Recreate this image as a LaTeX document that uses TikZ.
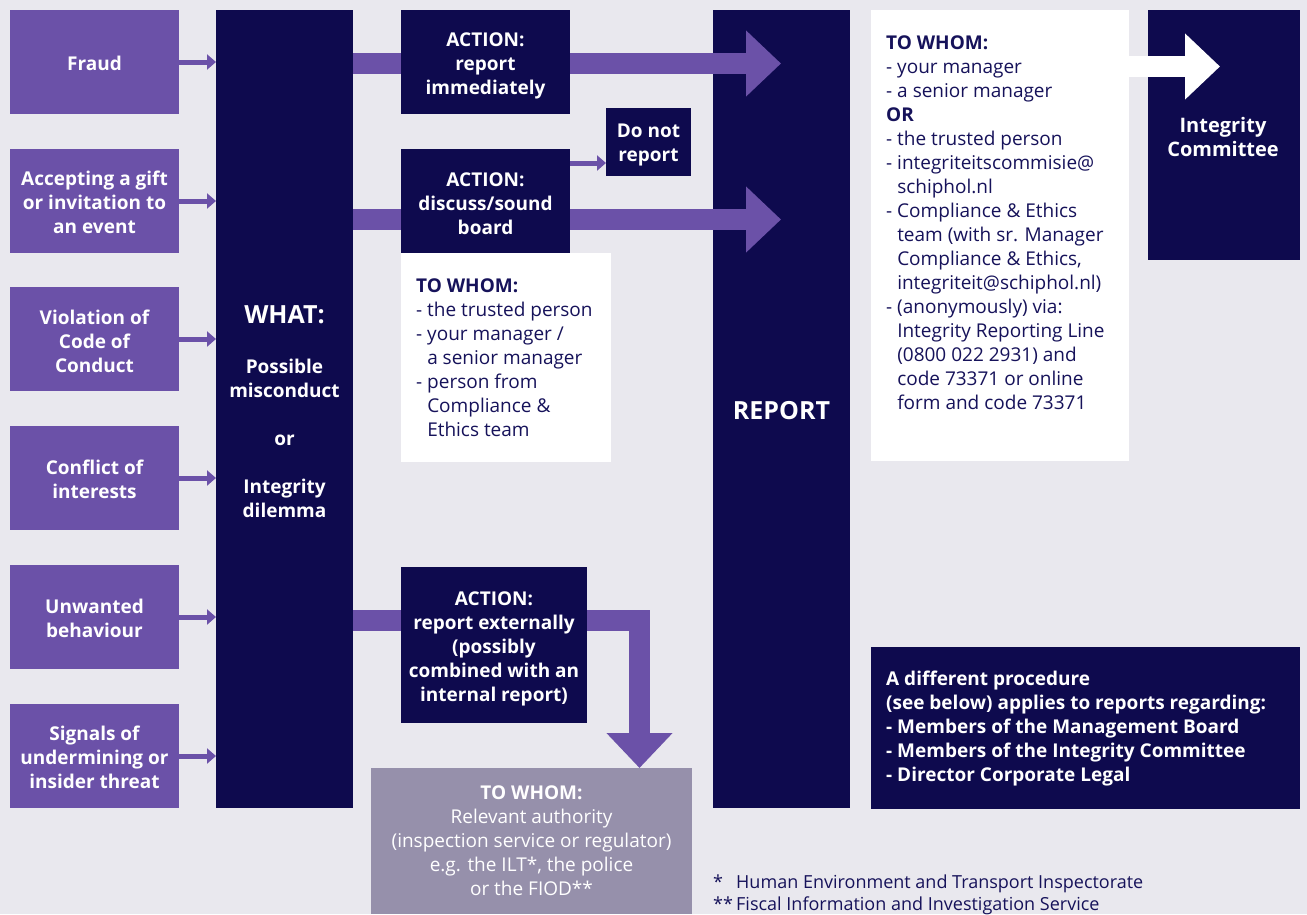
\documentclass[tikz,border=0pt]{standalone}
\usepackage{fontspec}
\setmainfont{Open Sans}
\usetikzlibrary{arrows.meta,calc}
\definecolor{bg}{HTML}{E9E8EE}
\definecolor{navy}{HTML}{0E0A4E}
\definecolor{purp}{HTML}{6B51A8}
\definecolor{grayb}{HTML}{9690AB}
\definecolor{txtnavy}{HTML}{16125A}
\begin{document}
\begin{tikzpicture}[x=1pt,y=-1pt,
  box/.style={rectangle, inner sep=0pt, outer sep=0pt, anchor=north west},
  btext/.style={inner sep=0pt, align=center, font=\fontsize{19}{24}\selectfont\bfseries, text=white},
  topic/.style={box, fill=purp, minimum width=169pt, minimum height=104pt},
  navybox/.style={box, fill=navy},
  whitebox/.style={box, fill=white},
  bodytext/.style={inner sep=0pt, anchor=north west, align=left,
    font=\fontsize{19}{24}\selectfont, text=txtnavy},
  band/.style={line width=21pt, line join=miter, draw=purp,
    -{Triangle[length=35pt,width=64pt]}},
  thin/.style={line width=5pt, draw=purp, -{Triangle[length=9pt,width=15pt]}},
]
\useasboundingbox (0,0) rectangle (1307,914);
\fill[bg] (0,0) rectangle (1307,914);

% topic boxes
\node[topic] (fraud) at (10,10) {};
\node[topic] (gift) at (10,149) {};
\node[topic] (code) at (10,287) {};
\node[topic] (conflict) at (10,426) {};
\node[topic] (unwanted) at (10,565) {};
\node[topic] (signals) at (10,704) {};
\node[btext, yshift=-1.5pt] (fraudt) at (fraud) {Fraud};
\node[btext, yshift=-1.5pt] (giftt) at (gift) {Accepting a gift\\or invitation to\\an event};
\node[btext, yshift=-2pt] (codet) at (code) {Violation of\\Code of\\Conduct};
\node[btext, yshift=-1.5pt] (conflictt) at (conflict) {Conflict of\\interests};
\node[btext, yshift=-1.5pt] (unwantedt) at (unwanted) {Unwanted\\behaviour};
\node[btext, yshift=-1.5pt] (signalst) at (signals) {Signals of\\undermining or\\insider threat};

% main columns
\node[navybox, minimum width=137pt, minimum height=798pt] (what) at (216,10) {};
\node[btext, yshift=-2.5pt] (whatt) at (what)
  {{\fontsize{25}{30}\selectfont WHAT:}\\[26pt]Possible\\misconduct\\[24pt]or\\[24pt]Integrity\\dilemma};
\node[navybox, minimum width=137pt, minimum height=798pt] (report) at (713,10) {};
\node[btext, yshift=-2pt, font=\fontsize{25}{30}\selectfont\bfseries] (reportt) at (report) {REPORT};

% small arrows
\foreach \t in {fraud,gift,code,conflict,unwanted,signals}
  \draw[thin] (\t.east) -- (\t.east -| what.west);

% big arrows
\coordinate (tip1) at (781,63.5);
\coordinate (tip2) at (781,219.5);
\coordinate (elbow) at (639.5,620);
\coordinate (tip3) at (639.5,768);
\draw[band] (what.east |- tip1) -- (tip1);
\draw[band] (what.east |- tip2) -- (tip2);
\draw[band] (what.east |- elbow) -| (tip3);

% action boxes
\node[navybox, minimum width=169pt, minimum height=104pt] (act1) at (401,10) {};
\node[btext, yshift=-4pt] (act1t) at (act1) {ACTION:\\report\\immediately};
\node[navybox, minimum width=169pt, minimum height=104pt] (act2) at (401,149) {};
\node[btext, yshift=-3pt] (act2t) at (act2) {ACTION:\\discuss/sound\\board};
\node[navybox, minimum width=85pt, minimum height=68pt] (donot) at (606,108) {};
\node[btext, yshift=-3pt] (donott) at (donot) {Do not\\report};
\coordinate (dn) at (588,163);
\draw[thin] (act2.east |- dn) -- (donot.west |- dn);

\node[whitebox, minimum width=210pt, minimum height=209pt] (whom1) at (401,253) {};
\node[bodytext] (whom1t) at (416,278.5)
  {\textbf{TO WHOM:}\\- the trusted person\\- your manager /\\\phantom{- }a senior manager\\- person from\\\phantom{- }Compliance \&\\\phantom{- }Ethics team};

\node[navybox, minimum width=186pt, minimum height=156pt] (act3) at (401,567) {};
\node[btext, yshift=-3.5pt] (act3t) at (act3)
  {ACTION:\\report externally\\(possibly\\combined with an\\internal report)};

\node[box, fill=grayb, minimum width=321pt, minimum height=146pt] (auth) at (371,768) {};
\node[btext, font=\fontsize{19}{24}\selectfont, yshift=0.5pt] (autht) at (auth)
  {\textbf{TO WHOM:}\\Relevant authority\\(inspection service or regulator)\\e.g. the ILT*, the police\\or the FIOD**};

% right side
\node[whitebox, minimum width=258pt, minimum height=451pt] (whom2) at (871,10) {};
\node[bodytext] (whom2t) at (886,36)
  {\textbf{TO WHOM:}\\- your manager\\- a senior manager\\\textbf{OR}\\- the trusted person\\- integriteitscommisie@\\\phantom{- }schiphol.nl\\- Compliance \& Ethics\\\phantom{- }team (with sr. Manager\\\phantom{- }Compliance \& Ethics,\\\phantom{- }integriteit@schiphol.nl)\\- (anonymously) via:\\\phantom{- }Integrity Reporting Line\\\phantom{- }(0800 022 2931) and\\\phantom{- }code 73371 or online\\\phantom{- }form and code 73371};

\node[navybox, minimum width=152pt, minimum height=250pt] (integ) at (1148,10) {};
\node[btext, font=\fontsize{20}{24}\selectfont\bfseries] (integt) at (1223,137) {Integrity\\Committee};
\coordinate (tip4) at (1220,66.5);
\draw[band, draw=white] (whom2.east |- tip4) -- (tip4);

\node[navybox, minimum width=429pt, minimum height=162pt] (diff) at (871,647) {};
\node[bodytext, text=white, font=\fontsize{19}{24}\selectfont\bfseries] (difft) at (886,670.5)
  {A different procedure\\(see below) applies to reports regarding:\\- Members of the Management Board\\- Members of the Integrity Committee\\- Director Corporate Legal};

% footnotes
\node[bodytext, font=\fontsize{18}{21.5}\selectfont] (notes) at (713,875)
  {\makebox[23pt][l]{*}Human Environment and Transport Inspectorate\\\makebox[23pt][l]{**}Fiscal Information and Investigation Service};
\end{tikzpicture}
\end{document}
